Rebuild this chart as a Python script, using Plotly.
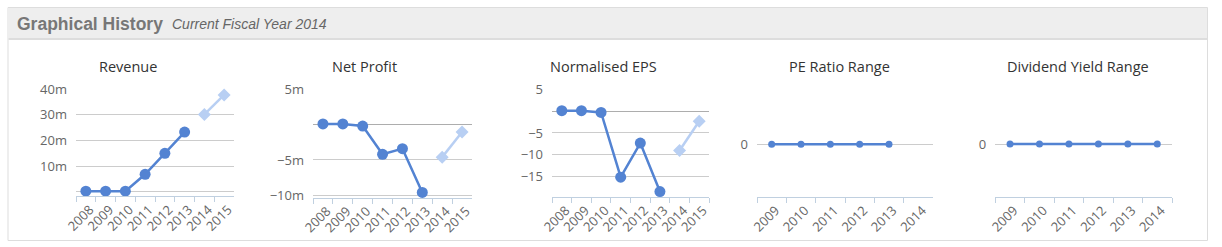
import plotly.graph_objects as go

W, H = 1222, 247

# ---- data ----
years_hist = ["2008", "2009", "2010", "2011", "2012", "2013"]
years_fc = ["2014", "2015"]
years_all = years_hist + years_fc

revenue_hist = [0.2e6, 0.2e6, 0.2e6, 6.8e6, 15.0e6, 23.3e6]
revenue_fc = [30.2e6, 37.8e6]

profit_hist = [0.1e6, 0.1e6, -0.2e6, -4.2e6, -3.4e6, -9.6e6]
profit_fc = [-4.6e6, -1.05e6]

eps_hist = [0.1, 0.1, -0.3, -15.1, -7.3, -18.4]
eps_fc = [-9.0, -2.3]

pe_years = ["2009", "2010", "2011", "2012", "2013", "2014"]
pe_values = [0, 0, 0, 0, 0]

dy_years = ["2009", "2010", "2011", "2012", "2013", "2014"]
dy_values = [0, 0, 0, 0, 0, 0]

titles = ["Revenue", "Net Profit", "Normalised EPS", "PE Ratio Range", "Dividend Yield Range"]
title_x = [128, 364.5, 603, 839.5, 1078]

rev_ticks = [0, 10e6, 20e6, 30e6, 40e6]
rev_ticktext = ["", "10m", "20m", "30m", "40m"]
np_ticks = [-10e6, -5e6, 0, 5e6]
np_ticktext = ["\u221210m", "\u22125m", "", "5m"]
eps_ticks = [-15, -10, -5, 0, 5]
eps_ticktext = ["\u221215", "\u221210", "\u22125", "", "5"]

# ---- styling ----
BLUE = "#5383d2"
LIGHT = "#b8cff3"
GRID = "#cccccc"
AXIS = "#c0d0e0"
FONT = "Open Sans"

def px_x(a, b):
    return [a / W, b / W]

def px_y(top, bottom):
    return [1 - bottom / H, 1 - top / H]

fig = go.Figure()

panels = [
    ((76, 234), (89.3, 196), [-1.68e6, 40e6], rev_ticks, rev_ticktext, years_all),
    ((313, 472), (89.3, 197.5), [-10.31e6, 5e6], np_ticks, np_ticktext, years_all),
    ((552, 709), (89.3, 196.7), [-19.58, 5], eps_ticks, eps_ticktext, years_all),
    ((757, 933), (91.9, 196.7), [-1, 1], [0], ["0"], pe_years),
    ((995.3, 1172), (91.3, 196.7), [-1, 1], [0], ["0"], dy_years),
]

hist_sets = [(revenue_hist, revenue_fc), (profit_hist, profit_fc), (eps_hist, eps_fc)]

layout_axes = {}
for i, (xd, yd, yr, tv, tt, cats) in enumerate(panels):
    n = i + 1
    xa = "xaxis" if n == 1 else f"xaxis{n}"
    ya = "yaxis" if n == 1 else f"yaxis{n}"
    xref = "x" if n == 1 else f"x{n}"
    yref = "y" if n == 1 else f"y{n}"
    layout_axes[xa] = dict(
        domain=px_x(*xd), anchor=yref, type="category", automargin=False,
        categoryorder="array", categoryarray=cats, range=[-0.5, len(cats) - 0.5],
        showgrid=False, showline=True, linecolor=AXIS, linewidth=1,
        ticks="outside", tickson="boundaries", ticklen=5, tickcolor=AXIS, tickwidth=1,
        tickangle=-45, ticklabelshift=4,
        tickfont=dict(family=FONT, size=13, color="#666666"),
        zeroline=False, fixedrange=True,
    )
    layout_axes[ya] = dict(
        domain=px_y(*yd), anchor=xref, range=yr, automargin=False,
        tickmode="array", tickvals=tv, ticktext=tt,
        showgrid=True, gridcolor=GRID, gridwidth=1,
        zeroline=(i in (1, 2)), zerolinecolor="#adadad", zerolinewidth=1.3,
        showline=False, ticks="", ticklabelstandoff=8,
        tickfont=dict(family=FONT, size=13, color="#666666"), fixedrange=True,
    )

    if i < 3:
        h, f = hist_sets[i]
        fig.add_trace(go.Scatter(
            x=years_hist, y=h, xaxis=xref, yaxis=yref, mode="lines+markers",
            line=dict(color=BLUE, width=2.5), marker=dict(color=BLUE, size=11, symbol="circle"),
            cliponaxis=False, showlegend=False, hoverinfo="skip"))
        fig.add_trace(go.Scatter(
            x=years_fc, y=f, xaxis=xref, yaxis=yref, mode="lines+markers",
            line=dict(color=LIGHT, width=2.5), marker=dict(color=LIGHT, size=10, symbol="diamond"),
            cliponaxis=False, showlegend=False, hoverinfo="skip"))
    else:
        vals = pe_values if i == 3 else dy_values
        xs = (pe_years if i == 3 else dy_years)[:len(vals)]
        fig.add_trace(go.Scatter(
            x=xs, y=vals, xaxis=xref, yaxis=yref, mode="lines+markers",
            line=dict(color=BLUE, width=2.5), marker=dict(color=BLUE, size=7, symbol="circle"),
            cliponaxis=False, showlegend=False, hoverinfo="skip"))

annotations = []
for t, cx in zip(titles, title_x):
    annotations.append(dict(
        text=t, x=cx / W, y=1 - 66 / H, xref="paper", yref="paper",
        xanchor="center", yanchor="middle", showarrow=False,
        font=dict(family=FONT, size=14.5, color="#333333")))

annotations.append(dict(
    text="<b>Graphical History</b>", x=15 / W, y=1 - 24 / H, xref="paper", yref="paper",
    xanchor="left", yanchor="middle", showarrow=False,
    font=dict(family="Liberation Sans", size=17.5, color="#777777")))
annotations.append(dict(
    text="<i>Current Fiscal Year 2014</i>", x=170 / W, y=1 - 24.5 / H, xref="paper", yref="paper",
    xanchor="left", yanchor="middle", showarrow=False,
    font=dict(family="Liberation Sans", size=14, color="#666666")))

shapes = [
    dict(type="rect", xref="paper", yref="paper", x0=8 / W, x1=1207.5 / W,
         y0=1 - 240.5 / H, y1=1 - 7.5 / H, line=dict(color="#dddddd", width=1),
         fillcolor="rgba(0,0,0,0)", layer="below"),
    dict(type="rect", xref="paper", yref="paper", x0=8.5 / W, x1=1207 / W,
         y0=1 - 38 / H, y1=1 - 8 / H, line=dict(width=0),
         fillcolor="#eeeeee", layer="below"),
    dict(type="line", xref="paper", yref="paper", x0=8.5 / W, x1=1207 / W,
         y0=1 - 39 / H, y1=1 - 39 / H, line=dict(color="#dddddd", width=2), layer="below"),
]

fig.update_layout(
    width=W, height=H, margin=dict(l=0, r=0, t=0, b=0),
    paper_bgcolor="white", plot_bgcolor="rgba(0,0,0,0)",
    annotations=annotations, shapes=shapes, showlegend=False,
    **layout_axes,
)

fig.write_html("out.html", config={"displayModeBar": False})
